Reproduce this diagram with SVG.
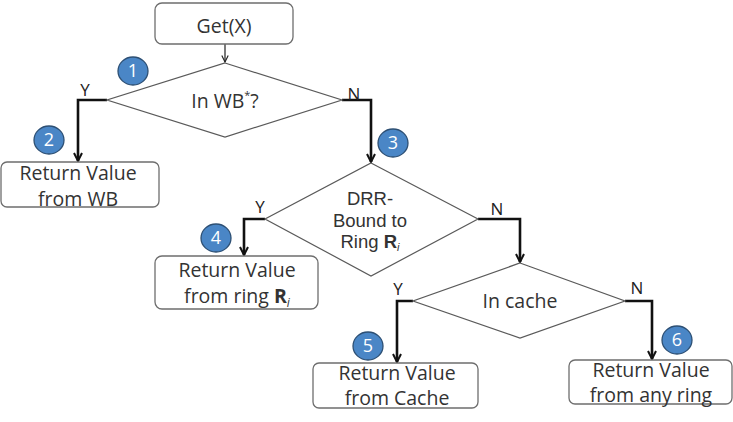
<svg xmlns="http://www.w3.org/2000/svg" width="733" height="422" viewBox="0 0 733 422">
<style>
.box{fill:#fff;stroke:#6e6e6e;stroke-width:1.3}
.dia{fill:#fff;stroke:#5a5a5a;stroke-width:1.2}
.t{font-family:"Open Sans","Liberation Sans",Arial,sans-serif;font-size:19.5px;fill:#333;text-anchor:middle}
.td{font-family:"Liberation Sans",Arial,sans-serif;font-size:18.5px;fill:#333;text-anchor:middle}
.lbl{font-family:"Open Sans","Liberation Sans",Arial,sans-serif;font-size:17px;fill:#222;text-anchor:middle}
.num{font-family:"Open Sans","Liberation Sans",Arial,sans-serif;font-size:18px;fill:#fff;text-anchor:middle}
.badge{fill:#4a86c6;stroke:#2d4f73;stroke-width:1.3}
.thick{fill:none;stroke:#111;stroke-width:2.6}
.thin{fill:none;stroke:#222;stroke-width:1.2}
</style>
<defs>
<marker id="ah" viewBox="0 0 10 10" refX="9" refY="5" markerWidth="10" markerHeight="10" markerUnits="userSpaceOnUse" orient="auto">
<path d="M1,1 L9,5 L1,9" fill="none" stroke="#111" stroke-width="2"/>
</marker>
<marker id="ahs" viewBox="0 0 10 10" refX="9" refY="5" markerWidth="8" markerHeight="8" markerUnits="userSpaceOnUse" orient="auto">
<path d="M1,1 L9,5 L1,9" fill="none" stroke="#222" stroke-width="1.4"/>
</marker>
</defs>
<g id="connectors">
<path class="thin" d="M225,44 V62" marker-end="url(#ahs)"/>
<path class="thick" d="M107,100 H78 V161" marker-end="url(#ah)"/>
<path class="thick" d="M342,100 H371 V162" marker-end="url(#ah)"/>
<path class="thick" d="M265,219 H244 V255" marker-end="url(#ah)"/>
<path class="thick" d="M478,219 H520 V262" marker-end="url(#ah)"/>
<path class="thick" d="M413,301 H397 V362" marker-end="url(#ah)"/>
<path class="thick" d="M625,301 H652 V359" marker-end="url(#ah)"/>
<text class="lbl" x="85" y="96">Y</text>
<text class="lbl" x="354" y="100">N</text>
<text class="lbl" x="260" y="213">Y</text>
<text class="lbl" x="497" y="215">N</text>
<text class="lbl" x="398" y="295">Y</text>
<text class="lbl" x="637" y="294">N</text>
</g>
<g id="get">
<rect class="box" x="155" y="3" width="138" height="41" rx="7"/>
<text class="t" x="224" y="33">Get(X)</text>
</g>
<g id="inwb">
<polygon class="dia" points="225,63 342,100 225,137 107,100"/>
<text class="t" x="225" y="108">In WB<tspan font-size="11" dy="-9">*</tspan><tspan dy="9">?</tspan></text>
</g>
<g id="retwb">
<rect class="box" x="1" y="162" width="158" height="45" rx="6"/>
<text class="t" x="78" y="180">Return Value</text>
<text class="t" x="78" y="206">from WB</text>
</g>
<g id="drr">
<polygon class="dia" points="371,163 478,219 371,276 265,219"/>
<text class="td" x="370" y="205">DRR-</text>
<text class="td" x="370" y="226.5">Bound to</text>
<text class="td" x="370" y="248">Ring <tspan font-weight="bold">R</tspan><tspan font-size="11" font-style="italic" dy="3">i</tspan></text>
</g>
<g id="retring">
<rect class="box" x="155" y="256" width="163" height="53" rx="7"/>
<text class="t" x="237" y="277">Return Value</text>
<text class="t" x="237" y="303">from ring <tspan font-weight="bold">R</tspan><tspan font-size="12" font-style="italic" dy="4">i</tspan></text>
</g>
<g id="incache">
<polygon class="dia" points="520,263 625,301 520,338 413,301"/>
<text class="t" x="520" y="308">In cache</text>
</g>
<g id="retcache">
<rect class="box" x="313" y="363" width="165" height="45" rx="6"/>
<text class="t" x="397" y="380">Return Value</text>
<text class="t" x="397" y="405">from Cache</text>
</g>
<g id="retany">
<rect class="box" x="569" y="360" width="163" height="44" rx="6"/>
<text class="t" x="651" y="377">Return Value</text>
<text class="t" x="651" y="402">from any ring</text>
</g>
<g id="b1"><ellipse class="badge" cx="133" cy="71" rx="15" ry="14"/><text class="num" x="133" y="77">1</text></g>
<g id="b2"><ellipse class="badge" cx="49" cy="140" rx="15" ry="14"/><text class="num" x="49" y="146">2</text></g>
<g id="b3"><ellipse class="badge" cx="393" cy="143" rx="15" ry="14"/><text class="num" x="393" y="149">3</text></g>
<g id="b4"><ellipse class="badge" cx="216" cy="238" rx="15" ry="14"/><text class="num" x="216" y="244">4</text></g>
<g id="b5"><ellipse class="badge" cx="368" cy="346" rx="15" ry="14"/><text class="num" x="368" y="352">5</text></g>
<g id="b6"><ellipse class="badge" cx="677" cy="340" rx="15" ry="14"/><text class="num" x="677" y="346">6</text></g>
</svg>
